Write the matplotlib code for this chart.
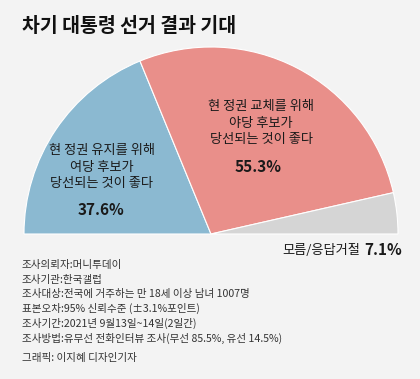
import matplotlib
matplotlib.use("Agg")
import matplotlib.pyplot as plt

plt.rcParams['font.family'] = ['Noto Sans CJK KR', 'DejaVu Sans']

# data
labels = ['현 정권 유지를 위해\n여당 후보가\n당선되는 것이 좋다',
          '현 정권 교체를 위해\n야당 후보가\n당선되는 것이 좋다',
          '모름/응답거절']
values = [37.6, 55.3, 7.1]
colors = ['#8bb9d1', '#e98f8a', '#d5d5d5']

title = '차기 대통령 선거 결과 기대'
notes = ['조사의뢰자:머니투데이',
         '조사기관:한국갤럽',
         '조사대상:전국에 거주하는 만 18세 이상 남녀 1007명',
         '표본오차:95% 신뢰수준 (±3.1%포인트)',
         '조사기간:2021년 9월13일~14일(2일간)',
         '조사방법:유무선 전화인터뷰 조사(무선 85.5%, 유선 14.5%)']
credit = '그래픽: 이지혜 디자인기자'

W, H = 420, 379
bg = '#f3f3f3'
fig = plt.figure(figsize=(W / 100, H / 100), dpi=100, facecolor=bg)
ax = fig.add_axes([0, 0, 1, 1])
ax.set_facecolor(bg)

# half donut: add a hidden slice equal to the total
cx, cy, r = 211, H - 234, 187
wedges, _ = ax.pie(values + [sum(values)], colors=colors + ['none'],
                   startangle=180, counterclock=False, center=(cx, cy), radius=r,
                   wedgeprops=dict(edgecolor='white', linewidth=0.8))
wedges[-1].set_edgecolor('none')
ax.set_xlim(0, W)
ax.set_ylim(0, H)
ax.set_aspect('equal')
ax.axis('off')

def y(py):
    return H - py

ax.text(22, y(26), title, fontsize=14, fontweight='bold', color='#111111',
        va='center', ha='left')

# slice labels
ax.text(102, y(167), labels[0], fontsize=9.5, ha='center', va='center',
        color='#1a1a1a', linespacing=1.35)
ax.text(101, y(210), f'{values[0]}%', fontsize=11, fontweight='bold',
        ha='center', va='center', color='#1a1a1a')
ax.text(261, y(123), labels[1], fontsize=9.5, ha='center', va='center',
        color='#1a1a1a', linespacing=1.35)
ax.text(258, y(167), f'{values[1]}%', fontsize=11, fontweight='bold',
        ha='center', va='center', color='#1a1a1a')
ax.text(360, y(250), labels[2], fontsize=9.5, ha='right', va='center',
        color='#1a1a1a')
ax.text(402, y(250), f'{values[2]}%', fontsize=11, fontweight='bold',
        ha='right', va='center', color='#1a1a1a')

# footnotes
for i, line in enumerate(notes):
    ax.text(22, y(265 + i * 14.6), line, fontsize=7.6, ha='left', va='center',
            color='#333333')
ax.text(22, y(358), credit, fontsize=7.6, ha='left', va='center', color='#333333')

fig.savefig('out.png', dpi=100, facecolor=bg)
